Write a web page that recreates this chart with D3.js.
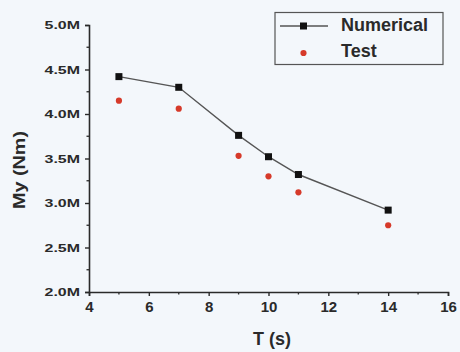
<!DOCTYPE html>
<html>
<head>
<meta charset="utf-8">
<script src="https://cdn.jsdelivr.net/npm/d3@7"></script>
<style>
  html, body { margin: 0; padding: 0; background: #f3f7fb; }
  svg { display: block; font-family: "Liberation Sans", Arial, sans-serif; }
</style>
</head>
<body>
<svg id="chart" width="460" height="352"></svg>
<script>
// Period T (s) and bending moment My (Nm)
const periods = [5, 7, 9, 10, 11, 14];
const numerical = [4.42e6, 4.30e6, 3.76e6, 3.52e6, 3.32e6, 2.92e6];
const test = [4.15e6, 4.06e6, 3.53e6, 3.30e6, 3.12e6, 2.75e6];
const xTicks = [4, 6, 8, 10, 12, 14, 16];
const yTicks = [2.0e6, 2.5e6, 3.0e6, 3.5e6, 4.0e6, 4.5e6, 5.0e6];
const seriesNames = ["Numerical", "Test"];

const svg = d3.select("#chart");
const plot = { left: 89, right: 448, top: 25, bottom: 292 };
const ink = "#2a2a2a";

const x = d3.scaleLinear().domain([4, 16]).range([plot.left, plot.right]);
const y = d3.scaleLinear().domain([2.0e6, 5.0e6]).range([plot.bottom, plot.top]);

const fmtY = v => (v / 1e6).toFixed(1) + "M";

// minor ticks (halfway between majors)
const xMinor = d3.range(5, 16, 2);
const yMinor = d3.range(2.25e6, 5.0e6, 0.5e6);

const gx = svg.append("g").attr("transform", `translate(0,${plot.bottom})`);
gx.call(d3.axisBottom(x).tickValues(xTicks).tickSize(4).tickPadding(5).tickFormat(d3.format("d")));
gx.selectAll(".minor").data(xMinor).join("line").attr("class", "minor")
  .attr("x1", d => x(d)).attr("x2", d => x(d))
  .attr("y1", 0).attr("y2", 2.5).attr("stroke", ink).attr("stroke-width", 1.3);

const gy = svg.append("g").attr("transform", `translate(${plot.left},0)`);
gy.call(d3.axisLeft(y).tickValues(yTicks).tickSize(4).tickFormat(fmtY));
gy.selectAll(".minor").data(yMinor).join("line").attr("class", "minor")
  .attr("x1", 0).attr("x2", -2.5)
  .attr("y1", d => y(d)).attr("y2", d => y(d)).attr("stroke", ink).attr("stroke-width", 1.3);

[gx, gy].forEach(g => {
  g.select(".domain").attr("stroke", ink).attr("stroke-width", 1.6);
  g.selectAll(".tick line").attr("stroke", ink).attr("stroke-width", 1.4);
  g.selectAll(".tick text").attr("fill", ink).attr("font-weight", "bold");
});
gx.selectAll(".tick text").attr("font-size", 15);
// wide, short y tick labels
const yStretch = 1.45;
gy.selectAll(".tick text").attr("font-size", 11)
  .attr("x", -9 / yStretch).attr("transform", `scale(${yStretch},1)`);

// axis titles
svg.append("text").attr("x", 272).attr("y", 345)
  .attr("text-anchor", "middle").attr("font-size", 18).attr("font-weight", "bold")
  .attr("fill", ink).text("T (s)");
svg.append("text").attr("transform", "translate(25,170) rotate(-90)")
  .attr("text-anchor", "middle").attr("font-size", 16).attr("font-weight", "bold")
  .attr("textLength", 78).attr("lengthAdjust", "spacingAndGlyphs")
  .attr("fill", ink).text("My (Nm)");

// numerical series: line + square markers
const pts = periods.map((t, i) => [t, numerical[i]]);
svg.append("path").datum(pts)
  .attr("d", d3.line().x(d => x(d[0])).y(d => y(d[1])))
  .attr("fill", "none").attr("stroke", "#555").attr("stroke-width", 1.4);
svg.selectAll(".num").data(pts).join("rect").attr("class", "num")
  .attr("x", d => x(d[0]) - 3.5).attr("y", d => y(d[1]) - 3.5)
  .attr("width", 7).attr("height", 7).attr("fill", "#111");

// test series: red dots
svg.selectAll(".tst").data(periods.map((t, i) => [t, test[i]])).join("circle").attr("class", "tst")
  .attr("cx", d => x(d[0])).attr("cy", d => y(d[1])).attr("r", 3.1).attr("fill", "#d63a2a");

// legend
const lg = svg.append("g");
lg.append("rect").attr("x", 275).attr("y", 12.5).attr("width", 168).attr("height", 52)
  .attr("fill", "none").attr("stroke", "#555").attr("stroke-width", 1.2);
lg.append("line").attr("x1", 280).attr("x2", 328).attr("y1", 26).attr("y2", 26)
  .attr("stroke", "#555").attr("stroke-width", 1.4);
lg.append("rect").attr("x", 300).attr("y", 22.5).attr("width", 7).attr("height", 7).attr("fill", "#111");
lg.append("circle").attr("cx", 303.5).attr("cy", 53).attr("r", 3.1).attr("fill", "#d63a2a");
lg.selectAll(".lt").data(seriesNames).join("text").attr("class", "lt")
  .attr("x", 341).attr("y", (d, i) => 31 + i * 26)
  .attr("font-size", 18).attr("font-weight", "bold").attr("fill", ink).text(d => d);
</script>
</body>
</html>
